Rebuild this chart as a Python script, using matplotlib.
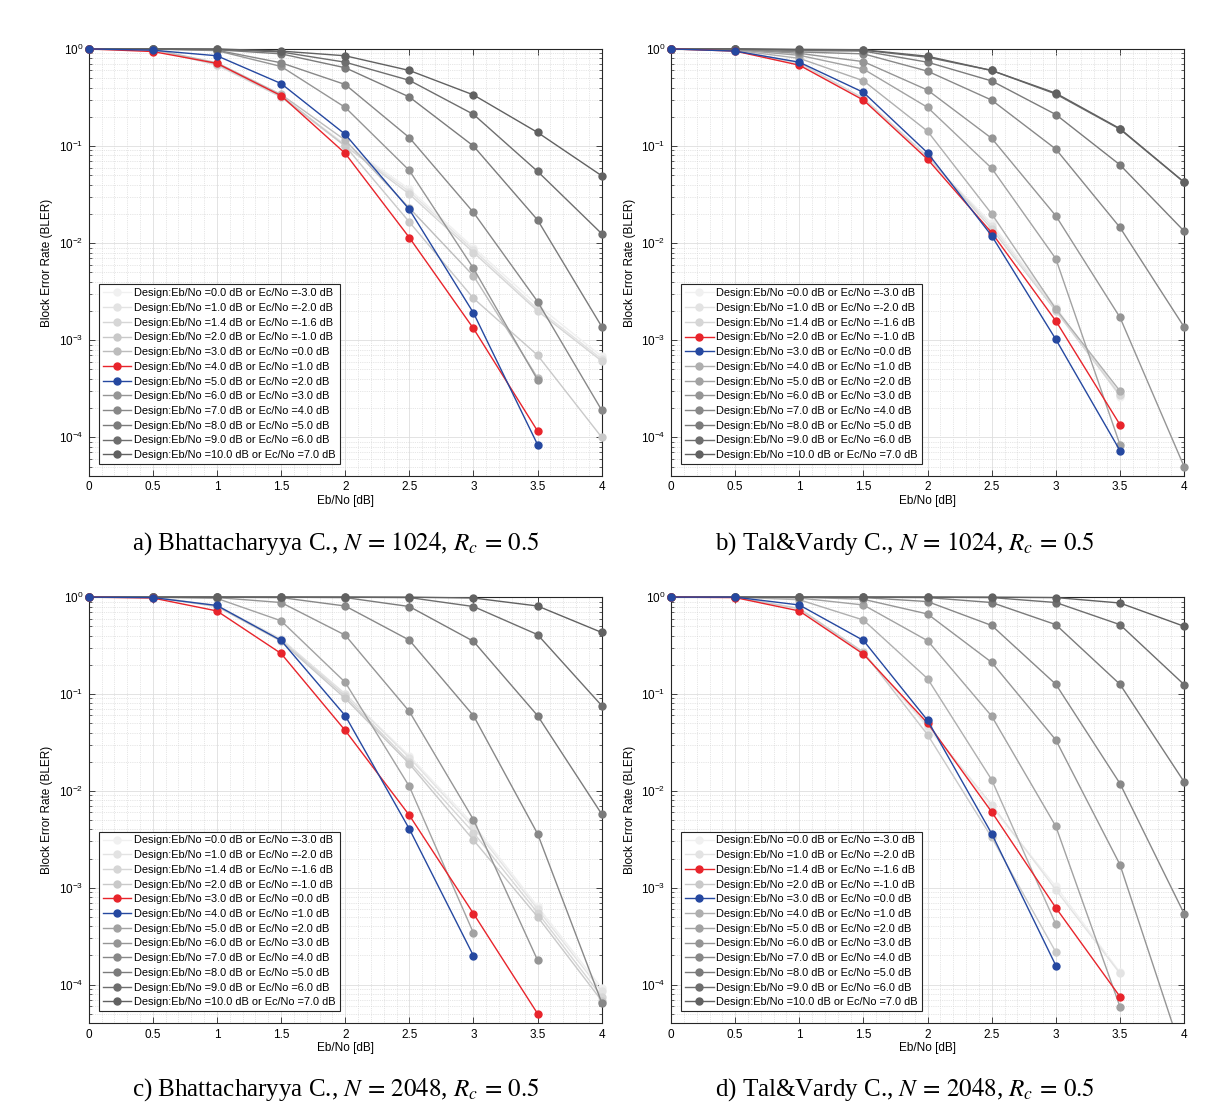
import numpy as np
import matplotlib
matplotlib.use('Agg')
import matplotlib.pyplot as plt
from matplotlib.ticker import MultipleLocator, LogLocator, FuncFormatter, NullFormatter

plt.rcParams['font.family'] = 'Liberation Sans'
plt.rcParams['mathtext.fontset'] = 'stix'

nan = np.nan

# x axis: Eb/No of the simulation
ebno = [0, 0.5, 1, 1.5, 2, 2.5, 3, 3.5, 4]

# design SNR of each curve
design_ebno = [0.0, 1.0, 1.4, 2.0, 3.0, 4.0, 5.0, 6.0, 7.0, 8.0, 9.0, 10.0]
design_ecno = [-3.0, -2.0, -1.6, -1.0, 0.0, 1.0, 2.0, 3.0, 4.0, 5.0, 6.0, 7.0]

# a) Bhattacharyya, N=1024
bler_a = [
    [1, 0.99, 0.68, 0.32, 0.105, 0.036, 0.0090, 0.0023, 6.8e-4],
    [1, 0.99, 0.68, 0.32, 0.102, 0.034, 0.0085, 0.0021, 6.4e-4],
    [1, 0.99, 0.69, 0.32, 0.100, 0.032, 0.0080, 0.0020, 6.1e-4],
    [1, 0.99, 0.70, 0.33, 0.100, 0.0165, 0.0027, 7.0e-4, 1.0e-4],
    [1, 0.99, 0.72, 0.34, 0.115, 0.023, 0.0046, 4.1e-4, nan],
    [1, 0.94, 0.71, 0.33, 0.084, 0.0114, 0.00132, 1.16e-4, nan],
    [1, 0.97, 0.85, 0.44, 0.132, 0.0222, 0.00191, 8.4e-5, nan],
    [1, 1, 0.96, 0.66, 0.25, 0.056, 0.0055, 3.9e-4, nan],
    [1, 1, 0.97, 0.72, 0.43, 0.122, 0.0207, 0.0025, 1.9e-4],
    [1, 1, 0.98, 0.89, 0.64, 0.32, 0.10, 0.0173, 0.00138],
    [1, 1, 0.99, 0.93, 0.73, 0.475, 0.212, 0.0548, 0.0125],
    [1, 1, 1.0, 0.95, 0.85, 0.60, 0.336, 0.138, 0.0494],
]

# b) Tal&Vardy, N=1024
bler_b = [
    [1, 0.96, 0.70, 0.30, 0.075, 0.016, 0.0022, 2.6e-4, nan],
    [1, 0.96, 0.71, 0.31, 0.077, 0.015, 0.0021, 2.8e-4, nan],
    [1, 0.96, 0.72, 0.31, 0.078, 0.014, 0.0020, 2.7e-4, nan],
    [1, 0.95, 0.68, 0.297, 0.073, 0.0128, 0.00158, 1.35e-4, nan],
    [1, 0.95, 0.73, 0.357, 0.085, 0.0119, 0.00102, 7.3e-5, nan],
    [1, 0.97, 0.80, 0.47, 0.142, 0.020, 0.0021, 3.0e-4, nan],
    [1, 0.98, 0.86, 0.62, 0.25, 0.059, 0.0069, 8.4e-5, nan],
    [1, 0.99, 0.90, 0.74, 0.377, 0.12, 0.0191, 0.00172, 5.0e-5],
    [1, 0.99, 0.93, 0.89, 0.59, 0.297, 0.093, 0.0145, 0.00137],
    [1, 1, 0.96, 0.95, 0.73, 0.468, 0.211, 0.064, 0.0133],
    [1, 1, 0.98, 0.97, 0.82, 0.60, 0.343, 0.149, 0.0423],
    [1, 1, 0.99, 0.98, 0.84, 0.60, 0.35, 0.151, 0.0425],
]

# c) Bhattacharyya, N=2048
bler_c = [
    [1, 1, 0.82, 0.37, 0.10, 0.023, 0.0045, 6.4e-4, 9.2e-5],
    [1, 1, 0.82, 0.37, 0.10, 0.022, 0.0042, 6.0e-4, 8.5e-5],
    [1, 1, 0.81, 0.36, 0.095, 0.020, 0.0037, 5.5e-4, 7.5e-5],
    [1, 1, 0.80, 0.35, 0.090, 0.019, 0.0031, 5.0e-4, 6.8e-5],
    [1, 0.98, 0.72, 0.262, 0.042, 0.00559, 5.4e-4, 5.0e-5, nan],
    [1, 0.99, 0.82, 0.357, 0.0597, 0.00404, 1.98e-4, nan, nan],
    [1, 1, 0.97, 0.57, 0.132, 0.0111, 3.4e-4, nan, nan],
    [1, 1, 0.99, 0.88, 0.405, 0.066, 0.00504, 1.78e-4, nan],
    [1, 1, 1, 0.99, 0.81, 0.36, 0.0597, 0.0036, 6.5e-5],
    [1, 1, 1, 1, 0.99, 0.80, 0.35, 0.0597, 0.00575],
    [1, 1, 1, 1, 1, 0.99, 0.80, 0.41, 0.0758],
    [1, 1, 1, 1, 1, 1, 0.98, 0.81, 0.432],
]

# d) Tal&Vardy, N=2048
bler_d = [
    [1, 1, 0.77, 0.27, 0.045, 0.0068, 0.00103, 1.34e-4, nan],
    [1, 1, 0.76, 0.26, 0.047, 0.0072, 0.00095, 1.30e-4, nan],
    [1, 0.99, 0.72, 0.258, 0.050, 0.00605, 6.2e-4, 7.5e-5, nan],
    [1, 1, 0.76, 0.27, 0.038, 0.0033, 2.16e-4, nan, nan],
    [1, 1, 0.83, 0.357, 0.0534, 0.00361, 1.57e-4, nan, nan],
    [1, 1, 0.94, 0.58, 0.144, 0.013, 4.2e-4, nan, nan],
    [1, 1, 0.98, 0.83, 0.355, 0.059, 0.0043, 5.9e-5, nan],
    [1, 1, 1, 0.95, 0.67, 0.212, 0.0335, 0.00173, 1.7e-5],
    [1, 1, 1, 0.99, 0.90, 0.51, 0.126, 0.0119, 5.4e-4],
    [1, 1, 1, 1, 0.99, 0.88, 0.52, 0.126, 0.0124],
    [1, 1, 1, 1, 1, 0.99, 0.88, 0.52, 0.125],
    [1, 1, 1, 1, 1, 1, 0.99, 0.87, 0.50],
]

# which curve is red / blue in each panel
red_idx = [5, 3, 4, 2]
blue_idx = [6, 4, 5, 4]

captions = [
    r'a) Bhattacharyya C., $N\,=\,1024$, $R_c\,=\,0.5$',
    r'b) Tal&Vardy C., $N\,=\,1024$, $R_c\,=\,0.5$',
    r'c) Bhattacharyya C., $N\,=\,2048$, $R_c\,=\,0.5$',
    r'd) Tal&Vardy C., $N\,=\,2048$, $R_c\,=\,0.5$',
]

grays = [str(g) for g in np.linspace(0.94, 0.38, 12)]
red = '#e8242b'
blue = '#2548a0'
ylo = 4e-5

fig = plt.figure(figsize=(12.25, 11.12), dpi=100)
rects = [
    [0.0724, 0.572, 0.4188, 0.384],
    [0.5478, 0.572, 0.4188, 0.384],
    [0.0724, 0.080, 0.4188, 0.383],
    [0.5478, 0.080, 0.4188, 0.383],
]
cap_pos = [(0.274, 0.511), (0.739, 0.511), (0.274, 0.020), (0.739, 0.020)]
datasets = [bler_a, bler_b, bler_c, bler_d]

labels = ['Design:Eb/No =%.1f dB or Ec/No =%.1f dB' % (e, c)
          for e, c in zip(design_ebno, design_ecno)]

for k in range(4):
    ax = fig.add_axes(rects[k])
    data = datasets[k]
    for i, y in enumerate(data):
        if i == red_idx[k]:
            col, z = red, 4
        elif i == blue_idx[k]:
            col, z = blue, 4
        else:
            col, z = grays[i], 3
        y = np.array(y, dtype=float)
        clip = bool(np.nanmin(y) < ylo)
        ax.plot(ebno, y, '-o', color=col, lw=1.0, ms=5, zorder=z,
                clip_on=clip, label=labels[i])

    ax.set_yscale('log')
    ax.set_xlim(0, 4)
    ax.set_ylim(ylo, 1)
    ax.xaxis.set_major_locator(MultipleLocator(0.5))
    ax.xaxis.set_minor_locator(MultipleLocator(0.1))
    ax.xaxis.set_major_formatter(FuncFormatter(lambda v, p: '%g' % v))
    ax.yaxis.set_major_locator(LogLocator(base=10, numticks=10))
    ax.yaxis.set_minor_locator(LogLocator(base=10, subs=np.arange(2, 10), numticks=20))
    ax.yaxis.set_minor_formatter(NullFormatter())
    ax.yaxis.set_major_formatter(FuncFormatter(
        lambda v, p: r'$\mathregular{10^{%d}}$' % int(round(np.log10(v)))))
    ax.tick_params(which='both', direction='in', top=True, right=True,
                   labelsize=8.5, color='#262626')
    ax.tick_params(which='major', length=4, width=0.6, pad=4)
    ax.tick_params(which='minor', length=2.5, width=0.5)
    ax.tick_params(axis='x', which='minor', length=0)
    for s in ax.spines.values():
        s.set_color('#262626')
        s.set_linewidth(0.8)
    ax.grid(which='major', color='#dedede', lw=0.6, ls='-')
    ax.grid(which='minor', color='#cfcfcf', lw=0.5, ls=':')
    ax.set_axisbelow(True)
    ax.set_xlabel('Eb/No [dB]', fontsize=8.5, labelpad=1)
    ax.set_ylabel('Block Error Rate (BLER)', fontsize=8.5, labelpad=4)

    leg = ax.legend(loc='lower left', bbox_to_anchor=(0.02, 0.028),
                    borderaxespad=0, fontsize=7.9, frameon=True, fancybox=False,
                    framealpha=1, edgecolor='#262626', labelspacing=0.43,
                    borderpad=0.35, handlelength=2.6, handletextpad=0.25,
                    numpoints=1)
    leg.get_frame().set_linewidth(0.8)
    leg.set_zorder(10)

    fig.text(cap_pos[k][0], cap_pos[k][1], captions[k], ha='center', va='center',
             fontsize=18, family='Liberation Serif')

fig.savefig('out.png', dpi=100)
